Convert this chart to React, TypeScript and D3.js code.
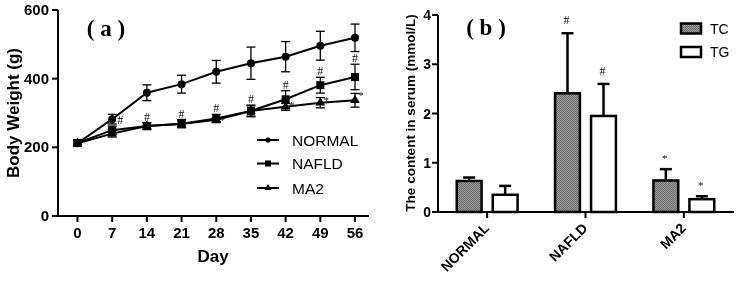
import React from "react";
import * as d3 from "d3";

const days = [0, 7, 14, 21, 28, 35, 42, 49, 56];
const normalMean = [212, 282, 359, 384, 420, 445, 464, 496, 519];
const normalErr = [8, 14, 23, 26, 33, 47, 44, 42, 40];
const nafldMean = [213, 250, 262, 269, 284, 306, 340, 381, 405];
const nafldErr = [8, 12, 10, 12, 12, 17, 25, 23, 37];
const ma2Mean = [212, 240, 262, 268, 280, 306, 318, 330, 337];
const ma2Err = [8, 10, 10, 10, 6, 15, 10, 15, 20];
const nafldHashDays = [7, 14, 21, 28, 35, 42, 49, 56];
const ma2StarDays = [28, 42, 49, 56];
const yTicksA = [0, 200, 400, 600];

const groups = ["NORMAL", "NAFLD", "MA2"];
const measures = ["TC", "TG"];
const tcMean = [0.63, 2.41, 0.64];
const tcErr = [0.07, 1.22, 0.23];
const tgMean = [0.35, 1.95, 0.26];
const tgErr = [0.18, 0.65, 0.06];
const tcMarks = ["", "#", "*"];
const tgMarks = ["", "#", "*"];
const yTicksB = [0, 1, 2, 3, 4];

const SANS = "'Liberation Sans', Arial, sans-serif";
const SERIF = "'Liberation Serif', 'Times New Roman', serif";

export default function App() {
  // Panel A
  const xA = d3.scaleLinear().domain([0, 56]).range([77.5, 355]);
  const yA = d3.scaleLinear().domain([0, 600]).range([216, 10]);
  const line = d3
    .line<number>()
    .x((_, i) => xA(days[i]))
    .y((d) => yA(d));

  const seriesA = [
    { name: "NORMAL", mean: normalMean, err: normalErr, marker: "circle" },
    { name: "NAFLD", mean: nafldMean, err: nafldErr, marker: "square" },
    { name: "MA2", mean: ma2Mean, err: ma2Err, marker: "triangle" },
  ];

  const marker = (type: string, cx: number, cy: number, key: string) => {
    if (type === "circle") return <circle key={key} cx={cx} cy={cy} r={4} fill="#000" />;
    if (type === "square")
      return <rect key={key} x={cx - 4} y={cy - 4} width={8} height={8} fill="#000" />;
    const sym = d3.symbol().type(d3.symbolTriangle).size(40)();
    return <path key={key} d={sym || ""} transform={`translate(${cx},${cy})`} fill="#000" />;
  };

  // Panel B
  const xB = d3.scaleBand<string>().domain(groups).range([438, 733]).paddingInner(0).paddingOuter(0);
  const xSub = d3.scaleBand<string>().domain(measures).range([-36, 36]).paddingInner(0.31).paddingOuter(0.155);
  const yB = d3.scaleLinear().domain([0, 4]).range([212, 15]);
  const barSeries = [
    { name: "TC", mean: tcMean, err: tcErr, marks: tcMarks, fill: "url(#halftone)" },
    { name: "TG", mean: tgMean, err: tgErr, marks: tgMarks, fill: "#fff" },
  ];

  return (
    <svg
      width={742}
      height={281}
      style={{ display: "block", position: "absolute", left: 0, top: 0, filter: "grayscale(1)" }}
    >
      <defs>
        <pattern id="halftone" width={2} height={2} patternUnits="userSpaceOnUse">
          <rect width={2} height={2} fill="#9a9a9a" />
          <rect width={1} height={1} fill="#6e6e6e" />
          <rect x={1} y={1} width={1} height={1} fill="#6e6e6e" />
        </pattern>
      </defs>
      <rect width={742} height={281} fill="#fff" />

      {/* ---------- Panel A ---------- */}
      <g>
        <line x1={58} x2={58} y1={yA(600)} y2={yA(0) + 1} stroke="#000" strokeWidth={2} />
        <line x1={57} x2={369} y1={yA(0)} y2={yA(0)} stroke="#000" strokeWidth={2} />
        {yTicksA.map((t) => (
          <g key={"ya" + t}>
            <line x1={52} x2={58} y1={yA(t)} y2={yA(t)} stroke="#000" strokeWidth={2} />
            <text x={49} y={yA(t) + 5} textAnchor="end" fontFamily={SANS} fontWeight="bold" fontSize={15}>
              {t}
            </text>
          </g>
        ))}
        {days.map((d) => (
          <g key={"xa" + d}>
            <line x1={xA(d)} x2={xA(d)} y1={yA(0)} y2={yA(0) + 6} stroke="#000" strokeWidth={2} />
            <text x={xA(d)} y={238} textAnchor="middle" fontFamily={SANS} fontWeight="bold" fontSize={15}>
              {d}
            </text>
          </g>
        ))}
        <text x={213} y={262} textAnchor="middle" fontFamily={SANS} fontWeight="bold" fontSize={17}>
          Day
        </text>
        <text
          transform={`translate(19,113) rotate(-90)`}
          textAnchor="middle"
          fontFamily={SANS}
          fontWeight="bold"
          fontSize={17}
        >
          Body Weight (g)
        </text>
        <text x={106} y={36} textAnchor="middle" fontFamily={SERIF} fontWeight="bold" fontSize={23} xmlSpace="preserve">
          ( a )
        </text>

        {seriesA.map((s) => (
          <g key={s.name}>
            {s.mean.map((m, i) => {
              const x = xA(days[i]);
              return (
                <g key={i}>
                  <line x1={x} x2={x} y1={yA(m - s.err[i])} y2={yA(m + s.err[i])} stroke="#000" strokeWidth={1.3} />
                  <line x1={x - 4.5} x2={x + 4.5} y1={yA(m - s.err[i])} y2={yA(m - s.err[i])} stroke="#000" strokeWidth={1.3} />
                  <line x1={x - 4.5} x2={x + 4.5} y1={yA(m + s.err[i])} y2={yA(m + s.err[i])} stroke="#000" strokeWidth={1.3} />
                </g>
              );
            })}
            <path d={line(s.mean) || ""} fill="none" stroke="#000" strokeWidth={2} />
            {s.mean.map((m, i) => marker(s.marker, xA(days[i]), yA(m), s.name + i))}
          </g>
        ))}

        {nafldHashDays.map((d) => {
          const i = days.indexOf(d);
          const top = yA(nafldMean[i] + nafldErr[i]);
          const dx = d === 7 ? 8 : 0;
          return (
            <text key={"h" + d} x={xA(d) + dx} y={top - 2} textAnchor="middle" fontFamily={SERIF} fontSize={12} fill="#111">
              #
            </text>
          );
        })}
        {ma2StarDays.map((d) => {
          const i = days.indexOf(d);
          const top = yA(ma2Mean[i] + ma2Err[i]);
          return (
            <text key={"s" + d} x={xA(d) + 6} y={top + 6} textAnchor="middle" fontFamily={SERIF} fontSize={11} fill="#111">
              *
            </text>
          );
        })}

        {seriesA.map((s, k) => {
          const y = [140, 163.5, 188][k];
          return (
            <g key={"lg" + s.name}>
              <line x1={257} x2={279} y1={y} y2={y} stroke="#000" strokeWidth={2} />
              {s.marker === "circle" ? (
                <circle cx={268} cy={y} r={2.6} fill="#000" />
              ) : s.marker === "square" ? (
                <rect x={265} y={y - 3} width={6} height={6} fill="#000" />
              ) : (
                <path d={d3.symbol().type(d3.symbolTriangle).size(22)() || ""} transform={`translate(268,${y})`} fill="#000" />
              )}
              <text x={292} y={y + 5.5} fontFamily={SANS} fontSize={15.5}>
                {s.name}
              </text>
            </g>
          );
        })}
      </g>

      {/* ---------- Panel B ---------- */}
      <g>
        <line x1={438} x2={438} y1={yB(4)} y2={yB(0) + 1} stroke="#000" strokeWidth={2} />
        <line x1={437} x2={734} y1={yB(0)} y2={yB(0)} stroke="#000" strokeWidth={2} />
        {yTicksB.map((t) => (
          <g key={"yb" + t}>
            <line x1={432} x2={438} y1={yB(t)} y2={yB(t)} stroke="#000" strokeWidth={2} />
            <text x={431} y={yB(t) + 5} textAnchor="end" fontFamily={SANS} fontWeight="bold" fontSize={14}>
              {t}
            </text>
          </g>
        ))}
        <text
          transform={`translate(415,113) rotate(-90)`}
          textAnchor="middle"
          fontFamily={SANS}
          fontWeight="bold"
          fontSize={13.5}
          fill="#000"
        >
          The content in serum (mmol/L)
        </text>
        <text x={486} y={35} textAnchor="middle" fontFamily={SERIF} fontWeight="bold" fontSize={23} xmlSpace="preserve">
          ( b )
        </text>

        {groups.map((g) => {
          const cx = (xB(g) || 0) + xB.bandwidth() / 2;
          return (
            <g key={"xb" + g}>
              <line x1={cx} x2={cx} y1={yB(0)} y2={yB(0) + 6} stroke="#000" strokeWidth={2} />
              <text
                transform={`translate(${cx + 3},${yB(0) + 17}) rotate(-45)`}
                textAnchor="end"
                fontFamily={SANS}
                fontWeight="bold"
                fontSize={14}
              >
                {g}
              </text>
            </g>
          );
        })}

        {barSeries.map((s) =>
          groups.map((g, i) => {
            const c = (xB(g) || 0) + xB.bandwidth() / 2;
            const x0 = c + (xSub(s.name) || 0);
            const w = xSub.bandwidth();
            const xm = x0 + w / 2;
            const top = yB(s.mean[i]);
            const etop = yB(s.mean[i] + s.err[i]);
            return (
              <g key={s.name + g}>
                <line x1={xm} x2={xm} y1={top} y2={etop} stroke="#000" strokeWidth={2.5} />
                <line x1={xm - 6} x2={xm + 6} y1={etop} y2={etop} stroke="#000" strokeWidth={2.5} />
                <rect x={x0} y={top} width={w} height={yB(0) - top} fill={s.fill} stroke="#000" strokeWidth={2.5} />
                {s.marks[i] && (
                  <text
                    x={xm - 1}
                    y={etop - (s.marks[i] === "#" ? 9 : 7)}
                    textAnchor="middle"
                    fontFamily={SERIF}
                    fontSize={s.marks[i] === "#" ? 12 : 11}
                    fill="#111"
                  >
                    {s.marks[i]}
                  </text>
                )}
              </g>
            );
          })
        )}

        {barSeries.map((s, k) => {
          const y = [23.5, 47][k];
          return (
            <g key={"lgb" + s.name}>
              <rect x={681} y={y} width={20} height={10} fill={s.fill} stroke="#000" strokeWidth={2.5} />
              <text x={710} y={y + 10} fontFamily={SANS} fontSize={14}>
                {s.name}
              </text>
            </g>
          );
        })}
      </g>
    </svg>
  );
}
